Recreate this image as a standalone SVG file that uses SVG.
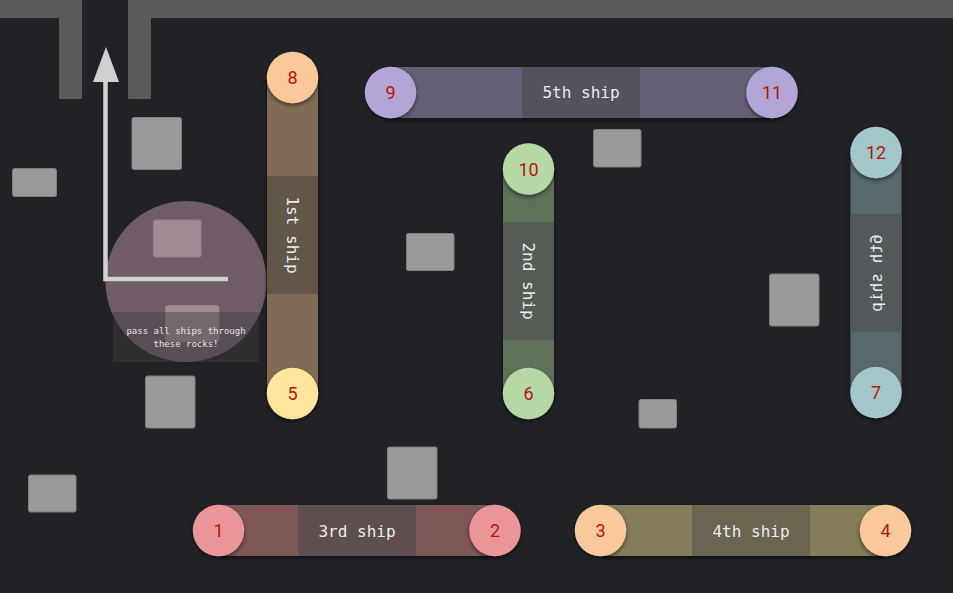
<svg xmlns="http://www.w3.org/2000/svg" width="953" height="593" viewBox="0 0 953 593">
<style>
.rock{fill:#9a9a9a;stroke:#7f7f7f;stroke-width:1}
.wall{fill:#5a5a5a}
.lbl{font-family:"DejaVu Sans Mono",monospace;font-size:16px;fill:#ececec;text-anchor:middle;dominant-baseline:central}
.num{font-family:Roboto,"Liberation Sans",sans-serif;font-size:18px;fill:#b3170d;text-anchor:middle;dominant-baseline:central}
.note{font-family:"DejaVu Sans Mono",monospace;font-size:9px;fill:#e6e6e6;text-anchor:middle}
.c{filter:url(#sh)}
</style>
<defs>
<filter id="sh" x="-40%" y="-40%" width="180%" height="180%">
<feDropShadow dx="0" dy="2" stdDeviation="2" flood-color="#000" flood-opacity="0.55"/>
</filter>
</defs>
<rect width="953" height="593" fill="#212226"/>
<g id="walls">
<rect class="wall" x="0" y="0" width="82" height="18"/>
<rect class="wall" x="59" y="0" width="23" height="99" rx="1"/>
<rect class="wall" x="128" y="0" width="825" height="18"/>
<rect class="wall" x="128" y="0" width="23" height="99" rx="1"/>
</g>
<g id="rocks">
<rect class="rock" x="132" y="117.5" width="49.5" height="52" rx="2"/>
<rect class="rock" x="12.5" y="168.5" width="44" height="28" rx="2"/>
<rect class="rock" x="153.5" y="220" width="47.5" height="37" rx="2"/>
<rect class="rock" x="165.5" y="305.5" width="53.5" height="36" rx="2"/>
<rect class="rock" x="406.5" y="233.5" width="47.5" height="37" rx="2"/>
<rect class="rock" x="593.5" y="129.5" width="47.5" height="37.5" rx="2"/>
<rect class="rock" x="769.5" y="274" width="49.5" height="52" rx="2"/>
<rect class="rock" x="145.5" y="376" width="49.5" height="52" rx="2"/>
<rect class="rock" x="639" y="399.5" width="37.5" height="28.5" rx="2"/>
<rect class="rock" x="387.5" y="447" width="49.5" height="52" rx="2"/>
<rect class="rock" x="28.5" y="475" width="47.5" height="37" rx="2"/>
</g>
<g id="zone">
<circle cx="186" cy="281.5" r="80.5" fill="rgb(163,131,146)" fill-opacity="0.6"/>
</g>
<g id="arrow">
<polyline points="105.5,80 105.5,279 228,279" fill="none" stroke="#d0d0d0" stroke-width="4.5"/>
<polygon points="93,82 106,47 119,82" fill="#d0d0d0"/>
</g>
<g id="note">
<rect x="113" y="312" width="146" height="50" fill="rgb(62,62,64)" fill-opacity="0.45"/>
<text class="note" x="186" y="334">pass all ships through</text>
<text class="note" x="186" y="347">these rocks!</text>
</g>
<g id="ship1">
<rect class="c" x="267" y="77.5" width="51" height="316" fill="#806c55"/>
<rect x="267" y="176" width="51" height="118" fill="#625649"/>
<text class="lbl" transform="translate(292.5,235) rotate(90)">1st ship</text>
<circle class="c" cx="292.5" cy="77.5" r="25.7" fill="#f9c99b"/>
<text class="num" x="292.5" y="77.5">8</text>
<circle class="c" cx="292.5" cy="393.5" r="25.7" fill="#fee59b"/>
<text class="num" x="292.5" y="393.5">5</text>
</g>
<g id="ship2">
<rect class="c" x="503" y="169" width="51" height="224.5" fill="#5e7159"/>
<rect x="503" y="222" width="51" height="118" fill="#555c55"/>
<text class="lbl" transform="translate(528.5,281) rotate(90)">2nd ship</text>
<circle class="c" cx="528.5" cy="169" r="25.7" fill="#b6d8a6"/>
<text class="num" x="528.5" y="169">10</text>
<circle class="c" cx="528.5" cy="393.5" r="25.7" fill="#b6d8a6"/>
<text class="num" x="528.5" y="393.5">6</text>
</g>
<g id="ship3">
<rect class="c" x="218.5" y="505" width="276.5" height="51" fill="#7e5658"/>
<rect x="298" y="505" width="118" height="51" fill="#5f4e50"/>
<text class="lbl" x="357" y="531">3rd ship</text>
<circle class="c" cx="218.5" cy="530.5" r="25.7" fill="#ea9698"/>
<text class="num" x="218.5" y="530.5">1</text>
<circle class="c" cx="495" cy="530.5" r="25.7" fill="#ea9698"/>
<text class="num" x="495" y="530.5">2</text>
</g>
<g id="ship4">
<rect class="c" x="600.5" y="505" width="285" height="51" fill="#857b59"/>
<rect x="692" y="505" width="118" height="51" fill="#6a6450"/>
<text class="lbl" x="751" y="531">4th ship</text>
<circle class="c" cx="600.5" cy="530.5" r="25.7" fill="#f9c99b"/>
<text class="num" x="600.5" y="530.5">3</text>
<circle class="c" cx="885.5" cy="530.5" r="25.7" fill="#f9c99b"/>
<text class="num" x="885.5" y="530.5">4</text>
</g>
<g id="ship5">
<rect class="c" x="390.5" y="67" width="381.5" height="51" fill="#655e74"/>
<rect x="522" y="67" width="118" height="51" fill="#55525d"/>
<text class="lbl" x="581" y="92.5">5th ship</text>
<circle class="c" cx="390.5" cy="92.5" r="25.7" fill="#b3a5d5"/>
<text class="num" x="390.5" y="92.5">9</text>
<circle class="c" cx="772" cy="92.5" r="25.7" fill="#b3a5d5"/>
<text class="num" x="772" y="92.5">11</text>
</g>
<g id="ship6">
<rect class="c" x="850.5" y="152.5" width="51" height="240" fill="#59696c"/>
<rect x="850.5" y="214" width="51" height="118" fill="#53585a"/>
<text class="lbl" transform="matrix(0,1,1,0,876,273)">6th ship</text>
<circle class="c" cx="876" cy="152.5" r="25.7" fill="#a3c6ca"/>
<text class="num" x="876" y="152.5">12</text>
<circle class="c" cx="876" cy="392.5" r="25.7" fill="#a3c6ca"/>
<text class="num" x="876" y="392.5">7</text>
</g>
</svg>
